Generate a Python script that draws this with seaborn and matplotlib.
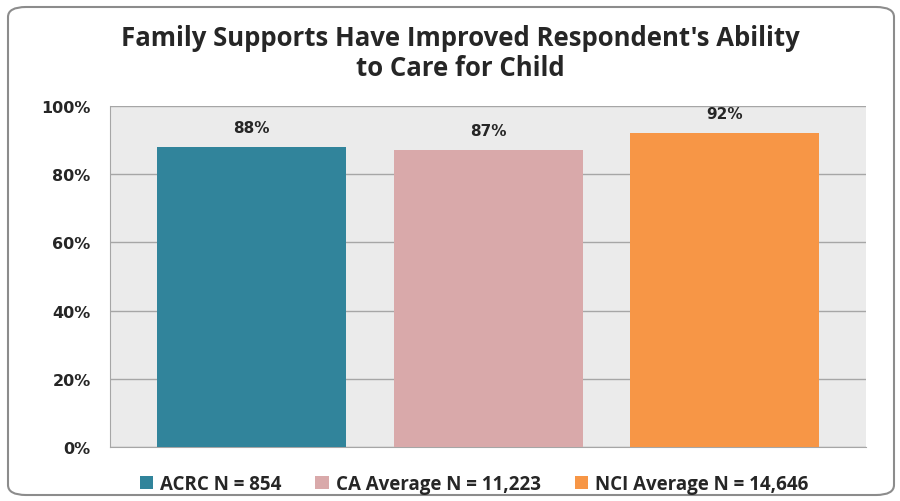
import matplotlib
matplotlib.use("Agg")
import matplotlib.pyplot as plt
import seaborn as sns
import pandas as pd
from matplotlib.patches import FancyBboxPatch, Patch
from matplotlib.ticker import PercentFormatter

# Data
groups = ["ACRC N = 854", "CA Average N = 11,223", "NCI Average N = 14,646"]
values = [88, 87, 92]
colors = ["#31849B", "#D9A9AA", "#F79646"]

df = pd.DataFrame({"group": groups, "value": values})

sns.set_style("white")
plt.rcParams["font.family"] = ["Open Sans", "DejaVu Sans"]

fig = plt.figure(figsize=(9, 5.02), dpi=100)
ax = fig.add_axes([110 / 900, 1 - 448 / 502, 756 / 900, 341 / 502])

# rounded frame around the chart
frame = FancyBboxPatch((8 / 900, 6 / 502), 886 / 900, 488 / 502,
                       boxstyle="round,pad=0,rounding_size=0.02",
                       transform=fig.transFigure, facecolor="white",
                       edgecolor="#8C8C8C", linewidth=1.5, zorder=-10)
fig.patches.append(frame)

sns.barplot(data=df, x="group", y="value", hue="group", palette=colors,
            width=0.8, saturation=1, legend=False, linewidth=0, ax=ax, zorder=3)

ax.set_facecolor("#EBEBEB")
ax.set_xlim(-0.6, 2.6)
ax.set_ylim(0, 100)
ax.set_yticks(range(0, 101, 20))
ax.yaxis.set_major_formatter(PercentFormatter(decimals=0))
ax.grid(axis="y", color="#A6A6A6", linewidth=1, zorder=0)
ax.set_axisbelow(True)
for s in ["top", "right"]:
    ax.spines[s].set_visible(False)
ax.spines["left"].set_color("#A6A6A6")
ax.spines["bottom"].set_color("#A6A6A6")
ax.set_xticks([])
ax.set_xlabel("")
ax.set_ylabel("")
ax.tick_params(axis="y", length=5, color="#A6A6A6", pad=9)
for lab in ax.get_yticklabels():
    lab.set_fontfamily("DejaVu Sans")
    lab.set_fontweight("bold")
    lab.set_fontsize(11.5)

for i, v in enumerate(values):
    ax.text(i, v + 3.5, f"{v}%", ha="center", va="bottom",
            fontsize=11, fontweight="bold", family="DejaVu Sans")

fig.text(0.512, 1 - 38 / 502, "Family Supports Have Improved Respondent's Ability",
         ha="center", va="center", fontsize=18.5, fontweight="bold")
fig.text(0.512, 1 - 68 / 502, "to Care for Child",
         ha="center", va="center", fontsize=18.5, fontweight="bold")

handles = [Patch(facecolor=c, edgecolor="none") for c in colors]
fig.legend(handles, groups, loc="center", bbox_to_anchor=(0.527, 1 - 485 / 502),
           ncol=3, frameon=False, handlelength=0.7, handleheight=0.7,
           handletextpad=0.4, columnspacing=1.8,
           prop={"weight": "bold", "size": 13.5})

fig.savefig("out.png", dpi=100)
